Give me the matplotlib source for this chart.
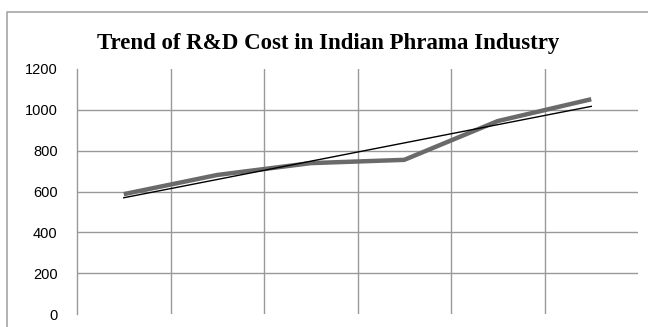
import matplotlib
matplotlib.use("Agg")
import matplotlib.pyplot as plt
from matplotlib.lines import Line2D
import numpy as np

# R&D cost over six periods
periods = [1, 2, 3, 4, 5, 6]
rd_cost = [587, 681, 739, 755, 945, 1052]
y_ticks = [0, 200, 400, 600, 800, 1000, 1200]
title = "Trend of R&D Cost in Indian Phrama Industry"

fig = plt.figure(figsize=(6.48, 3.27), dpi=100)
fig.patch.set_facecolor("white")

# outer chart frame (open to the right and bottom)
frame_col = "#a6a6a6"
fig.add_artist(Line2D([7 / 648, 7 / 648, 1.0], [0.0, 1 - 12 / 327, 1 - 12 / 327],
                      transform=fig.transFigure, color=frame_col, lw=1.2))

ax = fig.add_axes([77 / 648, 1 - 314 / 327, (638 - 77) / 648, (314 - 69) / 327])
ax.set_xlim(0.5, 6.5)
ax.set_ylim(0, 1200)

grid_col = "#999999"
for v in y_ticks[1:-1]:
    ax.axhline(v, color=grid_col, lw=1.0, zorder=1)
for b in np.arange(1.5, 6.5, 1.0):
    ax.axvline(b, color=grid_col, lw=1.0, zorder=1)

for s in ["top", "right", "bottom"]:
    ax.spines[s].set_visible(False)
ax.spines["left"].set_color(grid_col)
ax.spines["left"].set_linewidth(1.0)

ax.set_xticks([])
ax.set_yticks(y_ticks)
ax.tick_params(axis="y", length=0, pad=14, labelsize=10.5, labelcolor="black")
for lbl in ax.get_yticklabels():
    lbl.set_fontfamily("Liberation Sans")

x = np.array(periods, dtype=float)
y = np.array(rd_cost, dtype=float)
ax.plot(x, y, color="#6a6a6a", lw=3.2, solid_capstyle="butt", zorder=3)

# linear trend line
coef = np.polyfit(x, y, 1)
ax.plot(x[[0, -1]], np.polyval(coef, x[[0, -1]]), color="black", lw=1.0, zorder=4)

fig.text(328 / 648, 1 - 44 / 327, title, ha="center", va="center",
         fontsize=16.5, fontweight="bold", family="Liberation Serif")

fig.savefig("out.png", dpi=100)
